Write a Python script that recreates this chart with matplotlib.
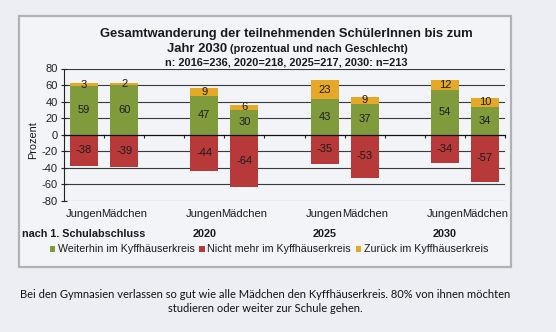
import matplotlib
matplotlib.use("Agg")
import matplotlib.pyplot as plt
import matplotlib.transforms as mtransforms
from matplotlib.patches import Rectangle, Patch

# --- data -------------------------------------------------------------
groups = ["nach 1. Schulabschluss", "2020", "2025", "2030"]
genders = ["Jungen", "Mädchen"]
weiterhin = [59, 60, 47, 30, 43, 37, 54, 34]
nicht_mehr = [-38, -39, -44, -64, -35, -53, -34, -57]
zurueck = [3, 2, 9, 6, 23, 9, 12, 10]
series_names = ["Weiterhin im Kyffhäuserkreis",
                "Nicht mehr im Kyffhäuserkreis",
                "Zurück im Kyffhäuserkreis"]
y_ticks = [-80, -60, -40, -20, 0, 20, 40, 60, 80]

title_1 = "Gesamtwanderung der teilnehmenden SchülerInnen bis zum"
title_2a = "Jahr 2030"
title_2b = "(prozentual und nach Geschlecht)"
title_3 = "n: 2016=236, 2020=218, 2025=217, 2030: n=213"
note_1 = ("Bei den Gymnasien verlassen so gut wie alle Mädchen den "
          "Kyffhäuserkreis. 80% von ihnen möchten")
note_2 = "studieren oder weiter zur Schule gehen."

# --- style ------------------------------------------------------------
GREEN = "#7f9b3c"
RED = "#b7393a"
ORANGE = "#e6a827"
PAGE = "#eceef4"
PANEL = "#f3f4f8"

plt.rcParams["font.family"] = ["Liberation Sans", "DejaVu Sans"]

W, H = 556, 332
fig = plt.figure(figsize=(W / 100, H / 100), dpi=100)
fig.patch.set_facecolor(PAGE)


def fx(px):
    return px / W


def fy(py):
    return 1 - py / H


# framed chart panel behind everything
panel = Rectangle((fx(19), fy(267)), fx(511) - fx(19), fy(15.7) - fy(267),
                  transform=fig.transFigure, facecolor=PANEL,
                  edgecolor="#b2b2b2", lw=1.6, zorder=-10)
fig.patches.append(panel)

ax = fig.add_axes([fx(64), fy(200.7), fx(505) - fx(64), fy(68.5) - fy(200.7)])
ax.set_facecolor("none")
ax.set_zorder(2)

# bar positions: two bars per group, an empty slot between groups
positions = []
for g in range(len(groups)):
    for s in range(len(genders)):
        positions.append(g * (len(genders) + 1) + s)

bw = 0.7
ax.bar(positions, weiterhin, width=bw, color=GREEN, zorder=3)
ax.bar(positions, zurueck, width=bw, bottom=weiterhin, color=ORANGE, zorder=3)
ax.bar(positions, nicht_mehr, width=bw, color=RED, zorder=3)

lab_kw = dict(ha="center", va="center", fontsize=8, color="#1c1c1c", zorder=4)
for x, w, r, n in zip(positions, weiterhin, zurueck, nicht_mehr):
    ax.text(x, w / 2, f"{w}", **lab_kw)
    ax.text(x, w + r / 2, f"{r}", **lab_kw)
    ax.text(x, n / 2, f"{n}", **lab_kw)

ax.set_xlim(-0.5, positions[-1] + 0.5)
ax.set_ylim(-80, 80)

# horizontal gridlines
for t in y_ticks:
    if t != 0:
        ax.axhline(t, color="#3a3a3a", lw=0.8, zorder=1)

for side in ("top", "right"):
    ax.spines[side].set_visible(False)
ax.spines["left"].set_color("#222222")
ax.spines["left"].set_linewidth(0.8)
ax.spines["bottom"].set_position(("data", 0))
ax.spines["bottom"].set_color("#111111")
ax.spines["bottom"].set_linewidth(0.9)
ax.spines["bottom"].set_zorder(5)

ax.set_yticks(y_ticks)
ax.set_yticklabels([f"{t}" for t in y_ticks])
ax.tick_params(axis="y", direction="inout", length=4.3, width=0.8,
               pad=2.5, labelsize=8, colors="#222222")

ax.set_xticks([p - 0.5 for p in range(positions[-1] + 2)])
ax.set_xticklabels([])
ax.tick_params(axis="x", direction="out", length=2, width=0.8,
               colors="#222222")

# category labels below the plot
trans = mtransforms.blended_transform_factory(ax.transData, fig.transFigure)
for i, x in enumerate(positions):
    ax.text(x, fy(214), genders[i % len(genders)], transform=trans,
            ha="center", va="center", fontsize=8, color="#1a1a1a")
for g, name in enumerate(groups):
    x = positions[g * len(genders)]
    ax.text(x, fy(234), name, transform=trans, ha="center", va="center",
            fontsize=7.8, fontweight="bold", color="#1a1a1a")

fig.text(fx(33), fy(140), "Prozent", rotation=90, ha="center", va="center",
         fontsize=7.8, color="#1a1a1a")

# title block
fig.text(fx(286.5), fy(37.5), title_1, ha="center", va="baseline",
         fontsize=9.4, fontweight="bold", color="#1a1a1a")
fig.text(fx(227), fy(52.5), title_2a, ha="right", va="baseline",
         fontsize=9.4, fontweight="bold", color="#1a1a1a")
fig.text(fx(230), fy(52.5), title_2b, ha="left", va="baseline",
         fontsize=7.9, fontweight="bold", color="#1a1a1a")
fig.text(fx(286), fy(65.5), title_3, ha="center", va="baseline",
         fontsize=7.9, fontweight="bold", color="#1a1a1a")

# legend
handles = [Patch(facecolor=c, edgecolor="none") for c in (GREEN, RED, ORANGE)]
fig.legend(handles, series_names, loc="center",
           bbox_to_anchor=(fx(269), fy(249.5)), ncol=3, frameon=False,
           fontsize=7.7, handlelength=0.5, handleheight=0.5,
           handletextpad=0.25, columnspacing=0.45, borderpad=0,
           borderaxespad=0, labelcolor="#1a1a1a")

# note below the chart
fig.text(fx(265), fy(295), note_1, ha="center", va="center",
         fontsize=8.0, family=["Lato", "DejaVu Sans"], color="#111111")
fig.text(fx(265), fy(309), note_2, ha="center", va="center",
         fontsize=8.0, family=["Lato", "DejaVu Sans"], color="#111111")

fig.savefig("out.png", dpi=100, facecolor=fig.get_facecolor())
